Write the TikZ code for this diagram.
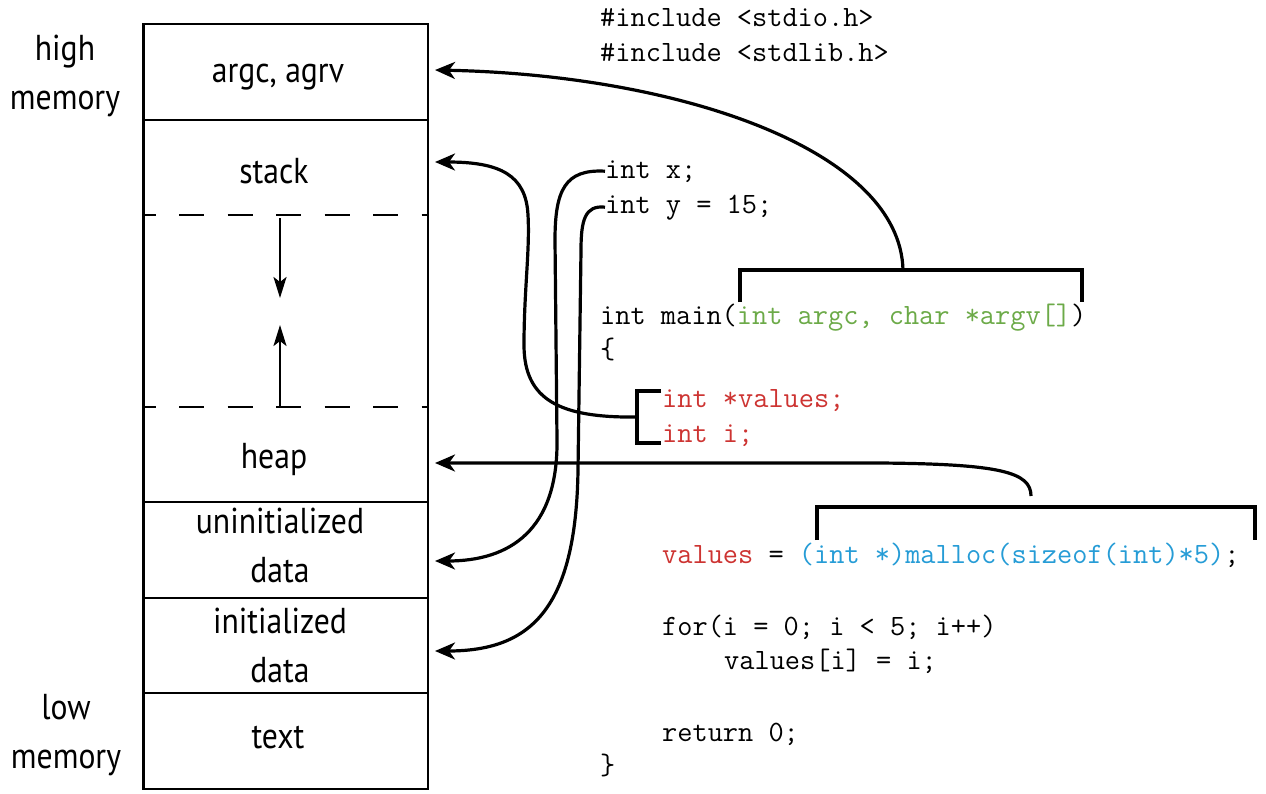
\documentclass[tikz,border=0pt]{standalone}
\usepackage{fontspec}
\setsansfont{PT Sans}[FakeStretch=0.88]
\usepackage{tikz}
\usetikzlibrary{arrows.meta}
\tikzstyle{seg} = [font=\sffamily\fontsize{36}{49}\selectfont,
    align=center, inner sep=0pt]
\tikzstyle{code} = [font=\ttfamily\fontsize{29.5}{35}\selectfont,
    anchor=base west, inner sep=0pt]
\tikzstyle{link} = [line width=3.2pt]
\tikzstyle{growth} = [line width=2.4pt,
    -{Stealth[length=21pt,width=13pt,inset=5pt]}]
\tikzset{>={Stealth[length=20pt,width=17pt,inset=6pt]}}
\definecolor{argsgreen}{RGB}{108,170,72}
\definecolor{localred}{RGB}{205,52,50}
\definecolor{mallocblue}{RGB}{38,156,214}

\begin{document}
\begin{tikzpicture}[x=1pt,y=-1pt]
    \useasboundingbox (0,0) rectangle (1266,793);
    %memory layout
    \draw[line width=2.4pt] (143.5,24) rectangle (428,789);
    \foreach \y in {120,502,598,693}
    {\draw[line width=2.4pt] (143.5,\y) -- (428,\y);}
    \foreach \y in {215,407}
    {\draw[line width=2.4pt, dash pattern=on 25pt off 23.5pt, dash phase=13pt]
        (143.5,\y) -- (428,\y);}
    \node[seg] (high) at (65,76) {high\\memory};
    \node[seg] (low) at (66,735) {low\\memory};
    \node[seg, anchor=base] (args) at (278,82) {argc, agrv};
    \node[seg, anchor=base] (stack) at (274,183) {stack};
    \node[seg, anchor=base] (heap) at (274,468) {heap};
    \node[seg] (bss) at (280,545) {uninitialized\\data};
    \node[seg] (data) at (280,645) {initialized\\data};
    \node[seg, anchor=base] (text) at (278,748) {text};
    %growth arrows
    \coordinate (sdown) at (280,218);
    \coordinate (stop) at (280,298);
    \coordinate (hup) at (280,406);
    \coordinate (htop) at (280,325);
    \draw[growth] (sdown) -- (stop);
    \draw[growth] (hup) -- (htop);
    %program text
    \node[code] (inc1) at (600,26) {\#include <stdio.h>};
    \node[code] (inc2) at (600,61) {\#include <stdlib.h>};
    \node[code] (intx) at (605,178) {int x;};
    \node[code] (inty) at (605,213) {int y = 15;};
    \node[code] (main) at (600,324)
        {int main(\textcolor{argsgreen}{int argc, char *argv[]})};
    \node[code] (lbrace) at (600,358) {\{};
    \node[code, text=localred] (vals) at (662,407) {int *values;};
    \node[code, text=localred] (inti) at (662,442) {int i;};
    \node[code] (alloc) at (662,563) {\textcolor{localred}{values} =
        \textcolor{mallocblue}{(int *)malloc(sizeof(int)*5)};};
    \node[code] (loop) at (662,635) {for(i = 0; i < 5; i++)};
    \node[code] (body) at (724,669) {values[i] = i;};
    \node[code] (ret) at (662,741) {return 0;};
    \node[code] (rbrace) at (600,774) {\}};
    %brackets
    \draw[link] (740,302) -- (740,270) -- (1082,270) -- (1082,302);
    \draw[link] (661,391) -- (637,391) -- (637,443) -- (661,443);
    \draw[link] (817,540) -- (817,507) -- (1255,507) -- (1255,540);
    \coordinate (gtop) at (903,270);
    \coordinate (rmid) at (637,417);
    \coordinate (btop) at (1031,496);
    %targets
    \coordinate (argin) at (435,70);
    \coordinate (stackin) at (435,162);
    \coordinate (heapin) at (435,463);
    \coordinate (bssin) at (435,561);
    \coordinate (datain) at (435,651);
    %links
    \draw[link,->] (gtop) .. controls (900,150) and (680,75) .. (argin);
    \draw[link,->] (rmid) .. controls (560,418) and (524,400) .. (524,345)
        .. controls (524,290) and (530,250) .. (528,215)
        .. controls (526,175) and (500,162) .. (stackin);
    \draw[link,->] (intx.west) .. controls (565,169) and (555,190) .. (555,240)
        -- (557,440) .. controls (558,530) and (510,561) .. (bssin);
    \draw[link,->] (inty.west) .. controls (585,205) and (581,220) .. (581,250)
        -- (578,470) .. controls (576,610) and (530,651) .. (datain);
    \draw[link,->] (btop) .. controls (1031,472) and (1000,464) .. (880,463)
        -- (heapin);
\end{tikzpicture}
\end{document}
